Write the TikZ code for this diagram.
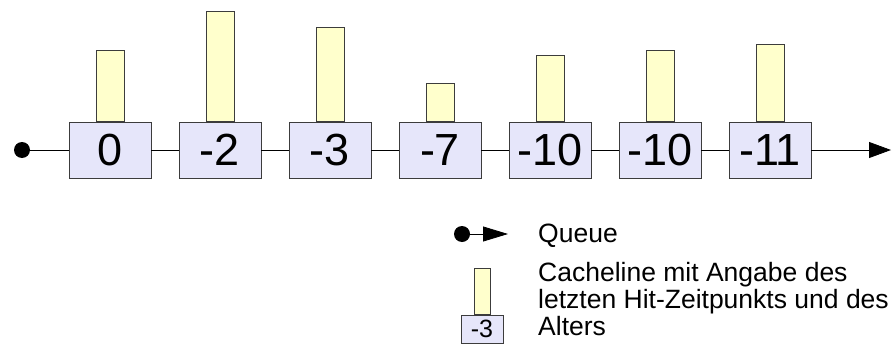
\documentclass[tikz,border=0pt]{standalone}
\usepackage{fontspec}
\setmainfont{Liberation Sans}
\usetikzlibrary{arrows.meta}

\definecolor{agefill}{RGB}{230,230,250}
\definecolor{hitfill}{RGB}{255,255,204}
\definecolor{edge}{RGB}{60,60,60}

\begin{document}
\begin{tikzpicture}[x=1pt, y=-1pt,
        age/.style={rectangle, draw=edge, fill=agefill, minimum width=82pt, minimum height=56pt, inner sep=0pt, font=\fontsize{45}{50}\selectfont},
        hit/.style={rectangle, draw=edge, fill=hitfill, minimum width=28pt, inner sep=0pt, anchor=south},
        dot/.style={circle, fill=black, minimum size=16pt, inner sep=0pt},
        link/.style={line width=0.8pt},
        label/.style={anchor=west, align=left, inner sep=0pt, font=\fontsize{26.5}{27.2}\selectfont}
    ]
        \useasboundingbox (0,0) rectangle (893,345);

        % queue of cachelines, oldest on the right
        \node[dot] (start) at (22,150) {};
        \node[age] (c0) at (110,150) {0};
        \node[age] (c1) at (220,150) {-2};
        \node[age] (c2) at (330,150) {-3};
        \node[age] (c3) at (440,150) {-7};
        \node[age] (c4) at (550,150) {-10};
        \node[age] (c5) at (660,150) {-10};
        \node[age] (c6) at (770,150) {-11};
        \coordinate (end) at (891,150);

        % last hit time as bar height
        \node[hit, minimum height=71pt] (h0) at (c0.north) {};
        \node[hit, minimum height=110pt] (h1) at (c1.north) {};
        \node[hit, minimum height=94pt] (h2) at (c2.north) {};
        \node[hit, minimum height=38.5pt] (h3) at (c3.north) {};
        \node[hit, minimum height=66pt] (h4) at (c4.north) {};
        \node[hit, minimum height=71.5pt] (h5) at (c5.north) {};
        \node[hit, minimum height=77pt] (h6) at (c6.north) {};

        \draw[link] (start) -- (c0);
        \draw[link] (c0) -- (c1);
        \draw[link] (c1) -- (c2);
        \draw[link] (c2) -- (c3);
        \draw[link] (c3) -- (c4);
        \draw[link] (c4) -- (c5);
        \draw[link] (c5) -- (c6);
        \draw[link, -{Triangle[length=22pt, width=16pt]}] (c6) -- (end);

        % legend
        \node[dot] (qdot) at (462,234) {};
        \coordinate (qend) at (508,234);
        \draw[link, -{Triangle[length=25pt, width=15pt]}] (qdot) -- (qend);
        \node[label] (queue) at (538,236) {Queue};

        \node[age, minimum width=42pt, minimum height=28pt, font=\fontsize{25}{28}\selectfont] (lage) at (482,329) {-3};
        \node[hit, minimum width=16pt, minimum height=46pt] (lhit) at (lage.north) {};
        \node[label] (cacheline) at (538,299) {Cacheline mit Angabe des\\letzten Hit-Zeitpunkts und des\\Alters};
    \end{tikzpicture}
\end{document}
